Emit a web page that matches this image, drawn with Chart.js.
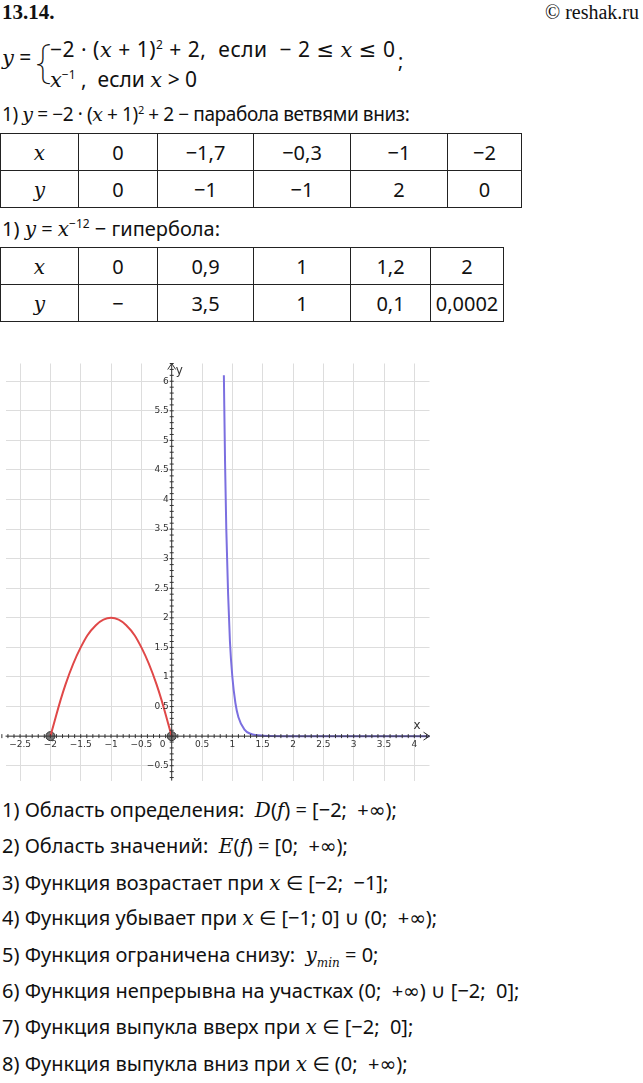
<!DOCTYPE html>
<html><head><meta charset="utf-8">
<script src="https://cdn.jsdelivr.net/npm/chart.js@4"></script>
<style>
body{margin:0;width:643px;height:1083px;position:relative;background:#fff;font-family:"Noto Sans","DejaVu Sans",sans-serif;color:#111;overflow:hidden}
.t{position:absolute;font-size:20px;white-space:nowrap;line-height:22px}
i{font-family:"DejaVu Serif","Liberation Serif",serif;font-style:italic}
table{position:absolute;border-collapse:collapse;font-size:20px}
td{border:1.5px solid #222;text-align:center;height:36px;padding:0}
#wrap{position:absolute;left:0;top:358px;width:435px;height:428px}
</style></head><body>
<div class="t" style="left:2px;top:1px;font-weight:bold;font-family:'Liberation Serif',serif;font-size:21px">13.14.</div>
<div class="t" style="right:4px;top:1px;font-family:'Liberation Serif',serif;font-size:20px">© reshak.ru</div>
<div class="t" style="left:2px;top:46px;font-size:21px"><i>y</i> =</div>
<div class="t" style="left:36px;top:34px;font-size:46px;font-weight:100;line-height:50px">{</div>
<div class="t" style="left:50px;top:34px;font-size:21px;letter-spacing:0.5px">−2 · (<i>x</i> + 1)<sup style="font-size:12px">2</sup> + 2,&nbsp; если &nbsp;− 2 ≤ <i>x</i> ≤ 0</div>
<div class="t" style="left:50px;top:64px;font-size:21px"><i>x</i><sup style="font-size:12px">−1</sup> ,&nbsp; если <i>x</i> &gt; 0</div>
<div class="t" style="left:398px;top:50px">;</div>
<div class="t" style="left:2px;top:99px;font-size:19px;letter-spacing:-0.4px">1) <i>y</i> = −2 · (<i>x</i> + 1)<sup style="font-size:11px">2</sup> + 2 − парабола ветвями вниз:</div>
<table style="left:0;top:133px;width:522px">
<tr><td style="width:77px"><i>x</i></td><td style="width:78px">0</td><td style="width:95px">−1,7</td><td style="width:96px">−0,3</td><td style="width:96px">−1</td><td>−2</td></tr>
<tr><td><i>y</i></td><td>0</td><td>−1</td><td>−1</td><td>2</td><td>0</td></tr></table>
<div class="t" style="left:2px;top:213px">1) <i>y</i> = <i>x</i><sup style="font-size:12px">−12</sup> − гипербола:</div>
<table style="left:0;top:247px;width:504px">
<tr><td style="width:77px"><i>x</i></td><td style="width:78px">0</td><td style="width:95px">0,9</td><td style="width:96px">1</td><td style="width:79px">1,2</td><td>2</td></tr>
<tr><td><i>y</i></td><td>−</td><td>3,5</td><td>1</td><td>0,1</td><td>0,0002</td></tr></table>
<div id="wrap"><canvas id="c"></canvas></div>
<div class="t" style="left:2px;top:799px">1) Область определения:&nbsp; <i>D</i>(<i>f</i>) = [−2;&nbsp; +∞);</div>
<div class="t" style="left:2px;top:835px">2) Область значений:&nbsp; <i>E</i>(<i>f</i>) = [0;&nbsp; +∞);</div>
<div class="t" style="left:2px;top:872px">3) Функция возрастает при <i>x</i> ∈ [−2;&nbsp; −1];</div>
<div class="t" style="left:2px;top:907px">4) Функция убывает при <i>x</i> ∈ [−1; 0] ∪ (0;&nbsp; +∞);</div>
<div class="t" style="left:2px;top:944px">5) Функция ограничена снизу:&nbsp; <i>y<sub style="font-size:12px">min</sub></i> = 0;</div>
<div class="t" style="left:2px;top:980px">6) Функция непрерывна на участках (0;&nbsp; +∞) ∪ [−2;&nbsp; 0];</div>
<div class="t" style="left:2px;top:1016px">7) Функция выпукла вверх при <i>x</i> ∈ [−2;&nbsp; 0];</div>
<div class="t" style="left:2px;top:1053px">8) Функция выпукла вниз при <i>x</i> ∈ (0;&nbsp; +∞);</div>
<script>
// parabola branch
var parX = [-2, -1.75, -1.5, -1.25, -1, -0.75, -0.5, -0.25, 0];
var parY = [0, 0.875, 1.5, 1.875, 2, 1.875, 1.5, 0.875, 0];
// x^-12 branch
var hypX = [0.86, 0.88, 0.9, 0.93, 0.96, 1, 1.05, 1.1, 1.2, 1.3, 1.5, 2, 3, 4.3];
var hypY = [6.1, 4.6, 3.5, 2.4, 1.6, 1, 0.56, 0.32, 0.11, 0.04, 0.008, 0, 0, 0];
var endX = [-2, 0];
var endY = [0, 0];
var xTicks = [-2.5, -2, -1.5, -1, -0.5, 0, 0.5, 1, 1.5, 2, 2.5, 3, 3.5, 4];
var yTicks = [-0.5, 0.5, 1, 1.5, 2, 2.5, 3, 3.5, 4, 4.5, 5, 5.5, 6];

function pts(xs, ys) { return xs.map(function (x, i) { return {x: x, y: ys[i]}; }); }

var axes = {
  id: 'axes',
  afterDatasetsDraw: function (chart) {
    var ctx = chart.ctx, xs = chart.scales.x, ys = chart.scales.y;
    var x0 = xs.getPixelForValue(0), y0 = ys.getPixelForValue(0);
    var L = chart.chartArea.left, R = chart.chartArea.right, T = chart.chartArea.top, B = chart.chartArea.bottom;
    ctx.save();
    ctx.strokeStyle = '#333'; ctx.lineWidth = 1;
    ctx.beginPath();
    ctx.moveTo(L, y0); ctx.lineTo(R, y0);
    ctx.moveTo(R - 6, y0 - 4); ctx.lineTo(R, y0); ctx.lineTo(R - 6, y0 + 4);
    ctx.moveTo(x0, B); ctx.lineTo(x0, T);
    ctx.moveTo(x0 - 4, T + 6); ctx.lineTo(x0, T); ctx.lineTo(x0 + 4, T + 6);
    for (var v = -2.8; v <= 4.3; v += 0.1) { var p = xs.getPixelForValue(v); ctx.moveTo(p, y0 - 2); ctx.lineTo(p, y0 + 2); }
    for (var w = -0.7; w <= 6.3; w += 0.1) { var q = ys.getPixelForValue(w); ctx.moveTo(x0 - 2, q); ctx.lineTo(x0 + 2, q); }
    ctx.stroke();
    ctx.fillStyle = '#333'; ctx.font = '9px "DejaVu Sans", sans-serif';
    ctx.textAlign = 'center'; ctx.textBaseline = 'top';
    xTicks.forEach(function (t) {
      ctx.fillText(String(t).replace('-', '−'), xs.getPixelForValue(t) + (t === 0 ? -9 : 0), y0 + 4);
    });
    ctx.textAlign = 'right'; ctx.textBaseline = 'middle';
    yTicks.forEach(function (t) { ctx.fillText(String(t).replace('-', '−'), x0 - 3, ys.getPixelForValue(t)); });
    ctx.font = '12px "DejaVu Sans", sans-serif';
    ctx.textAlign = 'left';
    ctx.fillText('y', x0 + 4, T + 7);
    ctx.fillText('x', R - 16, y0 - 10);
    ctx.restore();
  }
};

new Chart(document.getElementById('c'), {
  type: 'scatter',
  data: {
    datasets: [
      {data: pts(parX, parY), showLine: true, borderColor: '#e04848', borderWidth: 2, pointRadius: 0, tension: 0.4},
      {data: pts(hypX, hypY), showLine: true, borderColor: '#7b6fe0', borderWidth: 2, pointRadius: 0, cubicInterpolationMode: 'monotone'},
      {data: pts(endX, endY), pointRadius: 4.5, backgroundColor: '#777', borderColor: '#333', borderWidth: 1}
    ]
  },
  plugins: [axes],
  options: {
    responsive: true, maintainAspectRatio: false, animation: false,
    layout: {padding: {top: 2}},
    plugins: {legend: {display: false}, tooltip: {enabled: false}},
    scales: {
      x: {type: 'linear', min: -2.74, max: 4.25, afterBuildTicks: function (s) { s.ticks = xTicks.concat([0]).map(function (v) { return {value: v}; }); },
          ticks: {display: false}, grid: {color: '#ddd', drawTicks: false}, border: {display: false}},
      y: {type: 'linear', min: -0.75, max: 6.3, afterBuildTicks: function (s) { s.ticks = yTicks.concat([0]).map(function (v) { return {value: v}; }); },
          ticks: {display: false}, grid: {color: '#ddd', drawTicks: false}, border: {display: false}}
    }
  }
});
</script>
</body></html>
